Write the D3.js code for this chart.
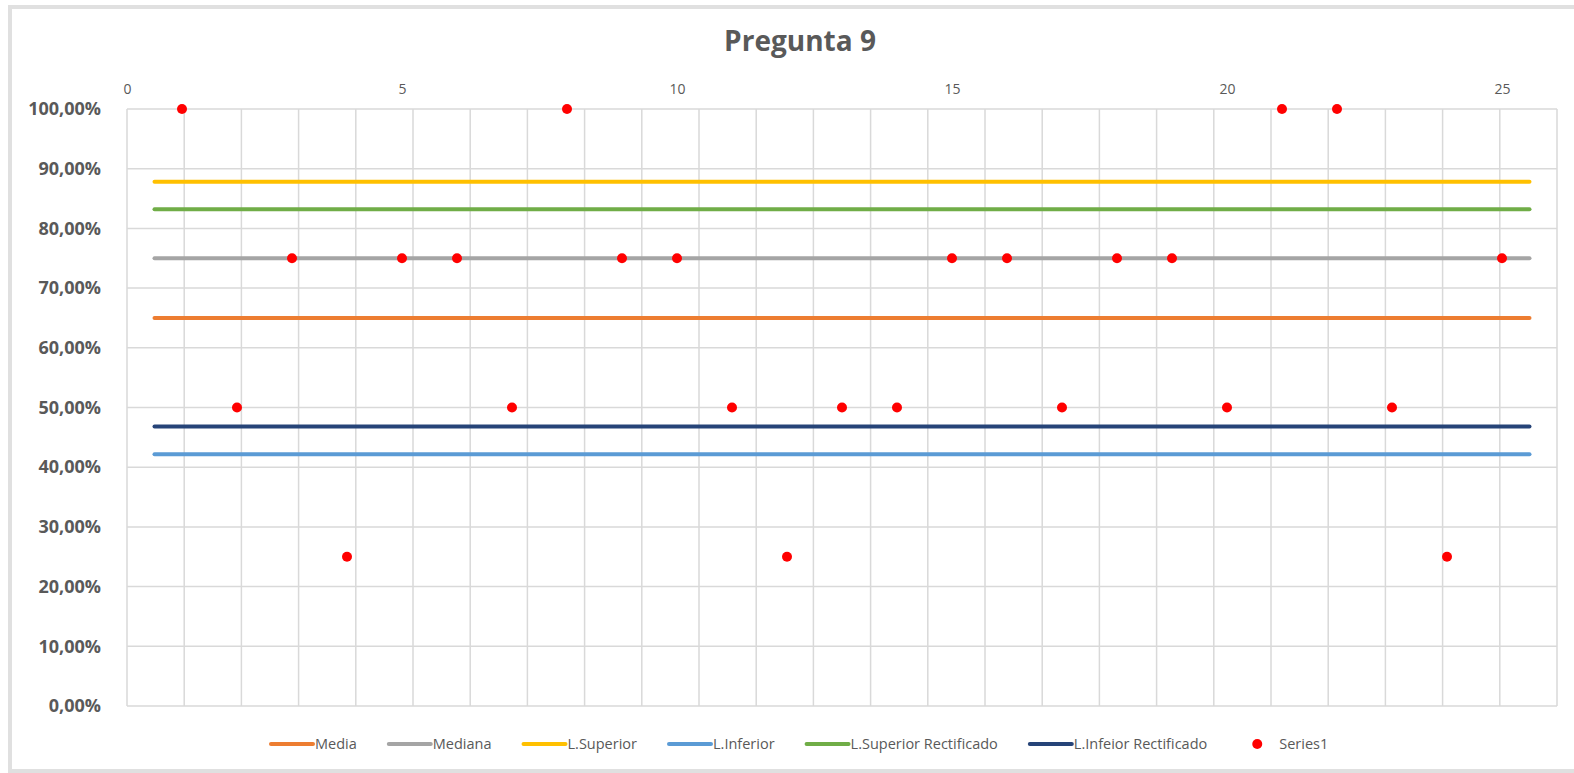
<!DOCTYPE html>
<html><head><meta charset="utf-8">
<script src="https://cdn.jsdelivr.net/npm/d3@7"></script>
<style>body{margin:0;background:#fff;} svg{display:block;}</style>
</head><body>
<script>
const title = "Pregunta 9";
const xValues = [1,2,3,4,5,6,7,8,9,10,11,12,13,14,15,16,17,18,19,20,21,22,23,24,25];
const series1 = [1,0.5,0.75,0.25,0.75,0.75,0.5,1,0.75,0.75,0.5,0.25,0.5,0.5,0.75,0.75,0.5,0.75,0.75,0.5,1,1,0.5,0.25,0.75];
const lineNames = ["Media","Mediana","L.Superior","L.Inferior","L.Superior Rectificado","L.Infeior Rectificado"];
const lineValues = [0.65,0.75,0.8782,0.4218,0.832,0.468];
const lineColors = ["#ED7D31","#A5A5A5","#FFC000","#5B9BD5","#70AD47","#264478"];
const lineRange = [0.5,25.5];
const xTicks = [0,5,10,15,20,25];
const yTicks = [0,0.1,0.2,0.3,0.4,0.5,0.6,0.7,0.8,0.9,1];

const W=1574,H=773;
const svg=d3.select("body").append("svg").attr("width",W).attr("height",H);
svg.append("rect").attr("x",10).attr("y",7).attr("width",W).attr("height",H-9)
  .attr("fill","#fff").attr("stroke","#e0e0e0").attr("stroke-width",4);

const x=d3.scaleLinear().domain([0,26]).range([127,1557]);
const y=d3.scaleLinear().domain([0,1]).range([706,109]);

svg.append("text").attr("x",800).attr("y",51).attr("text-anchor","middle")
  .attr("font-family","Open Sans, sans-serif").attr("font-weight","bold").attr("font-size",28)
  .attr("fill","#595959").text(title);

// grid
const g=svg.append("g");
const vgrid=d3.range(0,26).map(i=>i*26/25);
g.selectAll("line.v").data(vgrid).join("line").attr("class","v")
  .attr("x1",d=>x(d)).attr("x2",d=>x(d)).attr("y1",y(0)).attr("y2",y(1))
  .attr("stroke","#d9d9d9").attr("stroke-width",1.5);
g.selectAll("line.h").data(yTicks).join("line").attr("class","h")
  .attr("x1",x(0)).attr("x2",x(26)).attr("y1",d=>y(d)).attr("y2",d=>y(d))
  .attr("stroke","#d9d9d9").attr("stroke-width",1.5);

// axes
const yAxis=svg.append("g").attr("transform",`translate(${x(0)-23},0)`)
  .call(d3.axisLeft(y).tickValues(yTicks).tickSize(0).tickFormat(d=>(d*100).toFixed(2).replace(".",",")+"%"));
yAxis.select(".domain").remove();
yAxis.selectAll("text").attr("font-family","Open Sans, sans-serif").attr("font-weight","bold")
  .attr("font-size",18).attr("fill","#595959");
const xAxis=svg.append("g").attr("transform",`translate(0,${y(1)-12})`)
  .call(d3.axisTop(x).tickValues(xTicks).tickSize(0).tickFormat(d3.format("d")));
xAxis.select(".domain").remove();
xAxis.selectAll("text").attr("font-family","Open Sans, sans-serif")
  .attr("font-size",14).attr("fill","#595959");

// horizontal lines
const line=d3.line().x(d=>x(d[0])).y(d=>y(d[1]));
lineValues.forEach((v,i)=>{
  svg.append("path").attr("d",line(lineRange.map(r=>[r,v])))
    .attr("stroke",lineColors[i]).attr("stroke-width",4).attr("stroke-linecap","round").attr("fill","none");
});

// points
svg.selectAll("circle.pt").data(xValues).join("circle").attr("class","pt")
  .attr("cx",d=>x(d)).attr("cy",(d,i)=>y(series1[i])).attr("r",5).attr("fill","#FF0000");

// legend
const lg=svg.append("g").attr("font-family","Open Sans, sans-serif").attr("font-size",14.5).attr("fill","#595959");
let cx=271; const ly=744;
lineNames.forEach((n,i)=>{
  lg.append("line").attr("x1",cx).attr("x2",cx+42).attr("y1",ly).attr("y2",ly)
    .attr("stroke",lineColors[i]).attr("stroke-width",4).attr("stroke-linecap","round");
  const t=lg.append("text").attr("x",cx+44).attr("y",ly+5).text(n).attr("fill","#595959");
  cx += 44 + t.node().getComputedTextLength() + (i===lineNames.length-1 ? 0 : 32);
});
lg.append("circle").attr("cx",cx+50).attr("cy",ly).attr("r",5).attr("fill","#FF0000");
lg.append("text").attr("x",cx+72).attr("y",ly+5).text("Series1").attr("fill","#595959");
</script>
</body></html>
